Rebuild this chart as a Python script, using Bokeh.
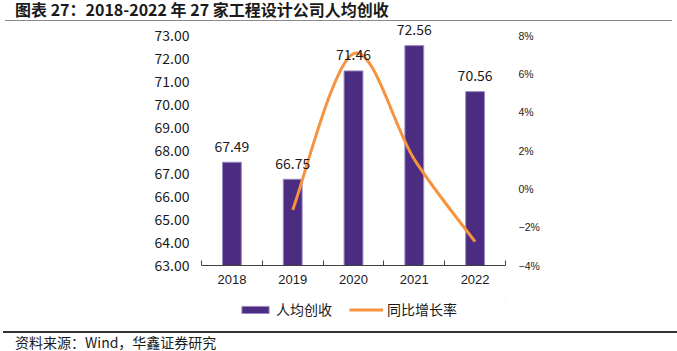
from bokeh.plotting import figure
from bokeh.layouts import column
from bokeh.models import (Range1d, LinearAxis, FixedTicker, LabelSet, Div,
                          ColumnDataSource, Legend, LegendItem)
from bokeh.core.properties import value
from bokeh.embed import file_html
from bokeh.resources import INLINE

# ---- data ----
years = ["2018", "2019", "2020", "2021", "2022"]
revenue = [67.49, 66.75, 71.46, 72.56, 70.56]
growth_years = ["2019", "2020", "2021", "2022"]
growth = [-1.10, 7.06, 1.54, -2.76]
left_ticks = [63, 64, 65, 66, 67, 68, 69, 70, 71, 72, 73]
right_ticks = [-4, -2, 0, 2, 4, 6, 8]
right_labels = ["−4%", "−2%", "0%", "2%", "4%", "6%", "8%"]
title_text = "图表 27：2018-2022 年 27 家工程设计公司人均创收"
source_text = "资料来源：Wind，华鑫证券研究"
bar_name = "人均创收"
line_name = "同比增长率"

CJK = "Noto Sans CJK SC"
LAT = "Liberation Sans"
BAR = "#4B2C80"
BAR_EDGE = "#9C8CC4"
ORANGE = "#F7923F"
TXT = "#1a1a1a"
W = 677


xs = [i + 1 for i in range(len(years))]
xg = [years.index(y) + 1 for y in growth_years]


def plain(fig, transparent=False):
    fig.outline_line_color = None
    fig.grid.visible = False
    fig.background_fill_color = "white"
    fig.border_fill_color = "white"
    if transparent:
        fig.background_fill_alpha = 0
        fig.border_fill_alpha = 0


# ---------- top strip: title (+ rule drawn just below it) ----------
TOP_H = 17
top = Div(width=W, height=TOP_H, margin=0, styles={"overflow": "visible"}, text=(
    f'<div style="position:relative;width:{W}px;height:{TOP_H}px;">'
    f'<div style="position:absolute;left:15px;top:1px;font-family:\'{CJK}\';'
    f'font-weight:bold;font-size:16px;line-height:16px;color:{TXT};white-space:nowrap;">'
    f'{title_text}</div>'
    f'<div style="position:absolute;left:5px;top:20px;width:667px;height:1px;'
    f'background:#8a8a8a;"></div></div>'))

# ---------- main chart ----------
MAIN_H = 298 - TOP_H   # canvas rows 17 .. 298
FRAME_H = 265 - TOP_H
EXTRA = FRAME_H - 230  # pixels of frame above the 73.00 / 8% level
left_top = 73 + EXTRA * (73 - 63) / 230
right_top = 8 + EXTRA * (8 - (-4)) / 230

p = figure(width=W, height=MAIN_H, output_backend="svg", toolbar_location=None,
           x_range=Range1d(0.5, len(years) + 0.5), y_range=Range1d(63, left_top),
           min_border_left=201, min_border_right=172, min_border_top=0,
           min_border_bottom=MAIN_H - FRAME_H)
plain(p, transparent=True)
p.extra_y_ranges = {"right": Range1d(-4, right_top)}

xa = p.xaxis[0]
xa.ticker = FixedTicker(ticks=xs, minor_ticks=[x - 0.5 for x in xs] + [xs[-1] + 0.5])
xa.major_label_overrides = {x: y for x, y in zip(xs, years)}
xa.axis_line_color = "#404040"
xa.axis_line_width = 1
xa.major_tick_line_color = None
xa.major_tick_in = 0
xa.major_tick_out = 0
xa.minor_tick_line_color = "#404040"
xa.minor_tick_in = 5
xa.minor_tick_out = 0
xa.major_label_text_font = LAT
xa.major_label_text_font_size = "13px"
xa.major_label_text_color = TXT
xa.major_label_standoff = 9

ya = p.yaxis[0]
ya.ticker = FixedTicker(ticks=left_ticks)
ya.major_label_overrides = {t: f"{t:.2f}" for t in left_ticks}
ya.axis_line_color = None
ya.major_tick_line_color = None
ya.major_tick_in = 0
ya.major_tick_out = 0
ya.minor_tick_line_color = None
ya.major_label_text_font = CJK
ya.major_label_text_font_size = "14px"
ya.major_label_text_color = TXT
ya.major_label_standoff = 12

ra = LinearAxis(y_range_name="right", ticker=FixedTicker(ticks=right_ticks),
                major_label_overrides={t: l for t, l in zip(right_ticks, right_labels)})
ra.axis_line_color = None
ra.major_tick_line_color = None
ra.major_tick_in = 0
ra.major_tick_out = 0
ra.minor_tick_line_color = None
ra.major_label_text_font = LAT
ra.major_label_text_font_size = "10.5px"
ra.major_label_text_color = TXT
ra.major_label_standoff = 13
p.add_layout(ra, "right")

p.vbar(x=xs, top=revenue, bottom=63, width=0.31,
       fill_color=BAR, line_color=BAR_EDGE, line_width=1)

# smoothed growth line: bezier segments through the data points
pts = list(zip(xg, growth))
n = len(pts)
x0, y0, x1, y1, cx0, cy0, cx1, cy1 = ([] for _ in range(8))
for i in range(n - 1):
    P0 = pts[i - 1] if i > 0 else pts[i]
    P1 = pts[i]
    P2 = pts[i + 1]
    P3 = pts[i + 2] if i + 2 < n else pts[i + 1]
    x0.append(P1[0]); y0.append(P1[1])
    x1.append(P2[0]); y1.append(P2[1])
    cx0.append(P1[0] + (P2[0] - P0[0]) / 6); cy0.append(P1[1] + (P2[1] - P0[1]) / 6)
    cx1.append(P2[0] - (P3[0] - P1[0]) / 6); cy1.append(P2[1] - (P3[1] - P1[1]) / 6)
p.bezier(x0=x0, y0=y0, x1=x1, y1=y1, cx0=cx0, cy0=cy0, cx1=cx1, cy1=cy1,
         line_color=ORANGE, line_width=3, y_range_name="right")

src = ColumnDataSource(dict(x=xs, y=revenue, t=[f"{v:.2f}" for v in revenue]))
p.add_layout(LabelSet(x="x", y="y", text="t", source=src, y_offset=16,
                      text_align="center", text_baseline="middle",
                      text_font=value(CJK), text_font_size="14px", text_color=TXT))

# ---------- legend strip (frame aligned with the chart) ----------
LEG_H = 24            # canvas rows 298 .. 322
leg = figure(width=W, height=LEG_H, output_backend="svg", toolbar_location=None,
             x_range=Range1d(0, 1), y_range=Range1d(0, 1),
             x_axis_location=None, y_axis_location=None,
             min_border_left=201, min_border_right=172,
             min_border_top=0, min_border_bottom=0)
plain(leg)
# legend-only renderers, placed outside this strip's visible range
lb = leg.vbar(x=[5], top=[5], bottom=[4], width=1, fill_color=BAR, line_color=BAR_EDGE)
ll = leg.line(x=[5, 6], y=[5, 5], line_color=ORANGE, line_width=3)
legend = Legend(items=[LegendItem(label=bar_name, renderers=[lb], index=0),
                       LegendItem(label=line_name, renderers=[ll], index=0)],
                orientation="horizontal", location=(37, 3),
                glyph_width=34, glyph_height=9, label_standoff=4, spacing=17,
                padding=0, margin=0, border_line_color=None,
                background_fill_alpha=0, label_text_font=CJK,
                label_text_font_size="14px", label_text_color=TXT,
                label_height=16)
leg.add_layout(legend)

# ---------- bottom strip: rule + source ----------
BOT_H = 351 - TOP_H - MAIN_H - LEG_H   # 29
bot = Div(width=W, height=BOT_H, margin=0, text=(
    f'<div style="position:relative;width:{W}px;height:{BOT_H}px;">'
    f'<div style="position:absolute;left:3px;top:9px;width:674px;height:2px;'
    f'background:#333333;"></div>'
    f'<div style="position:absolute;left:15px;top:13px;font-family:\'{CJK}\';'
    f'font-size:14px;line-height:15px;color:{TXT};white-space:nowrap;">'
    f'{source_text}</div></div>'))

layout = column(top, p, leg, bot, spacing=0)
open("out.html", "w").write(file_html(layout, INLINE))
